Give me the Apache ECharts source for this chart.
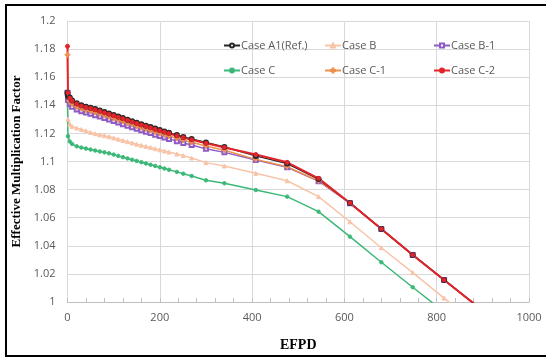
<!DOCTYPE html>
<html><head><meta charset="utf-8">
<script src="https://cdn.jsdelivr.net/npm/echarts@6/dist/echarts.min.js"></script>
<style>html,body{margin:0;padding:0;background:#fff}#c{width:546px;height:362px}</style>
</head><body><div id="c"></div>
<script>
var efpd = [0, 1, 5, 10, 20, 30, 40, 50, 60, 70, 80, 90, 100, 110, 120, 130, 140, 150, 160, 170, 180, 190, 200, 210, 220, 237, 251, 269, 300, 340, 408, 476, 544, 612, 680, 748, 816, 884];
var caseA1 = [1.149, 1.1465, 1.1455, 1.1435, 1.1415, 1.1400, 1.1390, 1.1383, 1.1373, 1.1363, 1.1352, 1.1342, 1.1331, 1.1320, 1.1309, 1.1298, 1.1287, 1.1276, 1.1265, 1.1255, 1.1245, 1.1234, 1.1224, 1.1214, 1.1204, 1.1188, 1.1175, 1.1160, 1.1135, 1.1103, 1.1040, 1.0985, 1.0875, 1.0705, 1.0520, 1.0335, 1.0157, 0.998];
var caseB = [1.143, 1.130, 1.1265, 1.1250, 1.1238, 1.1228, 1.1218, 1.1207, 1.1198, 1.1190, 1.1184, 1.1176, 1.1168, 1.1159, 1.1150, 1.1141, 1.1132, 1.1123, 1.1115, 1.1107, 1.1099, 1.1091, 1.1083, 1.1075, 1.1067, 1.1053, 1.1042, 1.1025, 1.0992, 1.0968, 1.0916, 1.0863, 1.0750, 1.0571, 1.0386, 1.0209, 1.0028, 0.985];
var caseB1 = [1.149, 1.1440, 1.1410, 1.1390, 1.1370, 1.1358, 1.1348, 1.1340, 1.1330, 1.1320, 1.1309, 1.1299, 1.1288, 1.1277, 1.1266, 1.1255, 1.1244, 1.1233, 1.1222, 1.1212, 1.1202, 1.1191, 1.1181, 1.1171, 1.1161, 1.1145, 1.1132, 1.1117, 1.1090, 1.1065, 1.1010, 1.0959, 1.0860, 1.0703, 1.0520, 1.0335, 1.0157, 0.998];
var caseC = [1.143, 1.118, 1.1142, 1.1125, 1.1108, 1.1099, 1.1092, 1.1085, 1.1078, 1.1071, 1.1065, 1.1058, 1.1049, 1.1040, 1.1031, 1.1022, 1.1013, 1.1004, 1.0995, 1.0986, 1.0977, 1.0968, 1.0959, 1.0950, 1.0941, 1.0926, 1.0913, 1.0897, 1.0866, 1.0845, 1.0797, 1.0750, 1.0643, 1.0465, 1.0283, 1.0105, 0.993];
var caseC1 = [1.176, 1.1460, 1.1430, 1.1410, 1.1390, 1.1377, 1.1367, 1.1360, 1.1350, 1.1340, 1.1329, 1.1319, 1.1308, 1.1297, 1.1286, 1.1275, 1.1264, 1.1253, 1.1242, 1.1232, 1.1222, 1.1211, 1.1201, 1.1191, 1.1181, 1.1165, 1.1152, 1.1137, 1.1110, 1.1080, 1.1015, 1.0962, 1.0863, 1.0705, 1.0520, 1.0335, 1.0157, 0.998];
var caseC2 = [1.182, 1.149, 1.1450, 1.1430, 1.1410, 1.1395, 1.1385, 1.1378, 1.1368, 1.1358, 1.1347, 1.1337, 1.1326, 1.1315, 1.1304, 1.1293, 1.1282, 1.1271, 1.1260, 1.1250, 1.1240, 1.1229, 1.1219, 1.1209, 1.1199, 1.1183, 1.1170, 1.1155, 1.1130, 1.1100, 1.1050, 1.0994, 1.0880, 1.0705, 1.0520, 1.0335, 1.0157, 0.998];
var names = ['Case A1(Ref.)', 'Case B', 'Case B-1', 'Case C', 'Case C-1', 'Case C-2'];
var xTicks = [0, 200, 400, 600, 800, 1000];

function pts(arr) { return arr.map(function (v, i) { return [efpd[i], v]; }); }
var plus = 'path://M4,0L6,0L6,4L10,4L10,6L6,6L6,10L4,10L4,6L0,6L0,4L4,4Z';
function ser(name, arr, color, symbol, size, width) {
  return { name: name, type: 'line', data: pts(arr), symbol: symbol, symbolSize: size,
    showAllSymbol: true, clip: true,
    lineStyle: { color: color, width: width }, itemStyle: { color: color, borderColor: color, borderWidth: 1 } };
}
var txt = { fontFamily: 'Open Sans', fontSize: 11, color: '#595959' };
function leg(l, d) {
  return { data: d, orient: 'vertical', left: l, top: 35, itemGap: 14, itemWidth: 16, itemHeight: 5,
    textStyle: { fontFamily: 'Open Sans', fontSize: 11, color: '#595959', padding: [0, 0, 0, -4] } };
}
var chart = echarts.init(document.getElementById('c'));
chart.setOption({
  animation: false,
  grid: { left: 67.5, right: 17, top: 21, bottom: 60 },
  legend: [leg(218, [names[0], names[3]]), leg(319, [names[1], names[4]]), leg(428, [names[2], names[5]])],
  xAxis: { type: 'value', min: 0, max: 1000, interval: 200, name: 'EFPD', nameLocation: 'middle', nameGap: 36,
    nameTextStyle: { fontFamily: 'Liberation Serif', fontWeight: 'bold', fontSize: 14, color: '#000' },
    axisLine: { lineStyle: { color: '#bfbfbf' } }, axisTick: { show: true, inside: true, length: 4, lineStyle: { color: '#bfbfbf' } },
    minorTick: { show: true, splitNumber: 5, length: 4, lineStyle: { color: '#bfbfbf' } },
    splitLine: { lineStyle: { color: '#d9d9d9' } },
    axisLabel: Object.assign({ margin: 10, formatter: function (v) { return xTicks.indexOf(v) >= 0 ? String(v) : ''; } }, txt) },
  yAxis: { type: 'value', min: 1, max: 1.2, interval: 0.02, name: 'Effective Multiplication Factor', nameLocation: 'middle', nameGap: 44,
    nameTextStyle: { fontFamily: 'Liberation Serif', fontWeight: 'bold', fontSize: 13, color: '#000' },
    axisLine: { show: true, lineStyle: { color: '#d9d9d9' } }, axisTick: { show: false },
    splitLine: { lineStyle: { color: '#d9d9d9' } },
    axisLabel: Object.assign({ margin: 12, formatter: function (v) { return String(Number(v.toFixed(2))); } }, txt) },
  graphic: [{ type: 'polyline', shape: { points: [[550, 5], [6, 5], [6, 356], [550, 356]] }, style: { stroke: '#000', lineWidth: 2, fill: null } }],
  series: [
    ser(names[1], caseB, '#f8c4a8', 'triangle', 4, 1.5),
    ser(names[3], caseC, '#3cb878', 'circle', 3.5, 1.5),
    ser(names[2], caseB1, '#8e5cc4', 'emptyRect', 4, 1.5),
    ser(names[4], caseC1, '#f0904a', plus, 5, 1.5),
    ser(names[0], caseA1, '#262626', 'emptyCircle', 4, 1.5),
    ser(names[5], caseC2, '#e3242b', 'circle', 4, 2)
  ]
});
</script></body></html>
